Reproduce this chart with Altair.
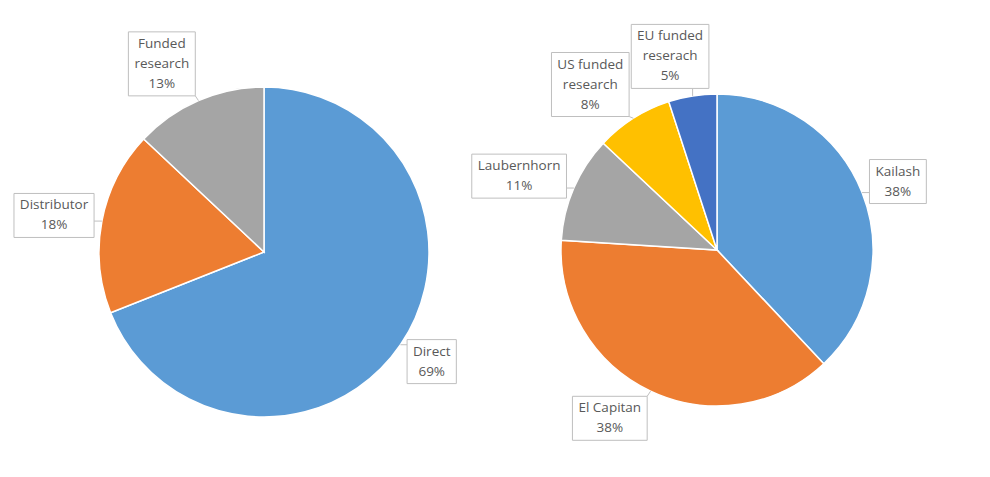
import altair as alt
import pandas as pd

# ---- data ----
left_labels = ["Direct", "Distributor", "Funded|research"]
left_values = [69, 18, 13]
left_colors = ["#5B9BD5", "#ED7D31", "#A5A5A5"]

right_labels = ["Kailash", "El Capitan", "Laubernhorn", "US funded|research", "EU funded|reserach"]
right_values = [38, 38, 11, 8, 5]
right_colors = ["#5B9BD5", "#ED7D31", "#A5A5A5", "#FFC000", "#4472C4"]

# ---- layout constants (pie centres and radii, in pixels) ----
W, H = 990, 477
layout = {"left": (264, 252, 165), "right": (717, 250, 156)}
FONT_SIZE = 13.5

# approximate Open Sans advance widths (em) to size the label boxes
_cw = {"a": .556, "b": .613, "c": .48, "d": .613, "e": .561, "f": .336, "h": .615,
       "i": .258, "l": .258, "n": .615, "o": .601, "p": .613, "r": .408, "s": .479,
       "t": .352, "u": .615, " ": .26, "D": .7, "E": .55, "U": .7, "S": .55, "L": .52,
       "K": .6, "C": .63, "I": .28, "%": .83}


def text_w(s):
    return sum(_cw.get(ch, .572) for ch in s) * FONT_SIZE


rows = []
for pie, labs, vals, cols in [("left", left_labels, left_values, left_colors),
                              ("right", right_labels, right_values, right_colors)]:
    cx, cy, r = layout[pie]
    for i, (l, v, c) in enumerate(zip(labs, vals, cols)):
        parts = l.split("|") + [f"{v}%"]
        rows.append(dict(pie=pie, idx=i, label=l, value=v, color=c,
                         cx=cx, cy=cy, R=r,
                         nlines=len(parts), tw=max(text_w(p) for p in parts)))
df = pd.DataFrame(rows)

xs = alt.Scale(domain=[0, W], nice=False, zero=False)
ys = alt.Scale(domain=[H, 0], nice=False, zero=False)

base = alt.Chart(df).transform_window(
    cum="sum(value)", frame=[None, 0], sort=[alt.SortField("idx")], groupby=["pie"]
).transform_calculate(
    a0="(datum.cum - datum.value) / 100 * 2 * PI",
    a1="datum.cum / 100 * 2 * PI",
    mid="(datum.cum - datum.value / 2) / 100 * 2 * PI",
    txt="datum.label + '|' + datum.value + '%'",
    bw="datum.tw + 12",
    bh="datum.nlines * 20 + 4",
).transform_calculate(
    ax="datum.cx + datum.R * sin(datum.mid)",
    ay="datum.cy - datum.R * cos(datum.mid)",
    lx="datum.cx + (datum.R + 8) * sin(datum.mid)"
       " + (sin(datum.mid) < 0 ? -1 : 1) * min(1, 3.5 * abs(sin(datum.mid))) * datum.bw / 2",
    ly="datum.cy - (datum.R + 8) * cos(datum.mid) - cos(datum.mid) * datum.bh / 2",
).transform_calculate(
    bx1="datum.lx - datum.bw / 2",
    bx2="datum.lx + datum.bw / 2",
    by1="datum.ly - datum.bh / 2",
    by2="datum.ly + datum.bh / 2",
    ty="datum.ly - (datum.nlines - 1) * 10",
).transform_calculate(
    nx="clamp(datum.ax, datum.bx1, datum.bx2)",
    ny="clamp(datum.ay, datum.by1, datum.by2)",
)

arcs = base.mark_arc(stroke="white", strokeWidth=1.5).encode(
    x=alt.X("cx:Q", scale=xs, axis=None),
    y=alt.Y("cy:Q", scale=ys, axis=None),
    theta=alt.Theta("a0:Q", scale=None),
    theta2="a1:Q",
    radius=alt.Radius("R:Q", scale=None),
    color=alt.Color("color:N", scale=None),
)

leaders = base.mark_rule(color="#BFBFBF", strokeWidth=1).encode(
    x=alt.X("ax:Q", scale=xs, axis=None),
    y=alt.Y("ay:Q", scale=ys, axis=None),
    x2="nx:Q",
    y2="ny:Q",
)

boxes = base.mark_rect(fill="white", stroke="#BFBFBF", strokeWidth=1).encode(
    x=alt.X("bx1:Q", scale=xs, axis=None),
    x2="bx2:Q",
    y=alt.Y("by1:Q", scale=ys, axis=None),
    y2="by2:Q",
)

texts = base.mark_text(lineBreak="|", font="Open Sans", fontSize=FONT_SIZE,
                       color="#595959", lineHeight=20, baseline="middle",
                       align="center").encode(
    x=alt.X("lx:Q", scale=xs, axis=None),
    y=alt.Y("ty:Q", scale=ys, axis=None),
    text="txt:N",
)

chart = alt.layer(arcs, leaders, boxes, texts).properties(
    width=W, height=H, padding=0, background="white",
    autosize=alt.AutoSizeParams(type="none")
).configure_view(stroke="transparent", strokeWidth=0)

chart.save("out.html", embed_options={"renderer": "svg", "actions": False})
